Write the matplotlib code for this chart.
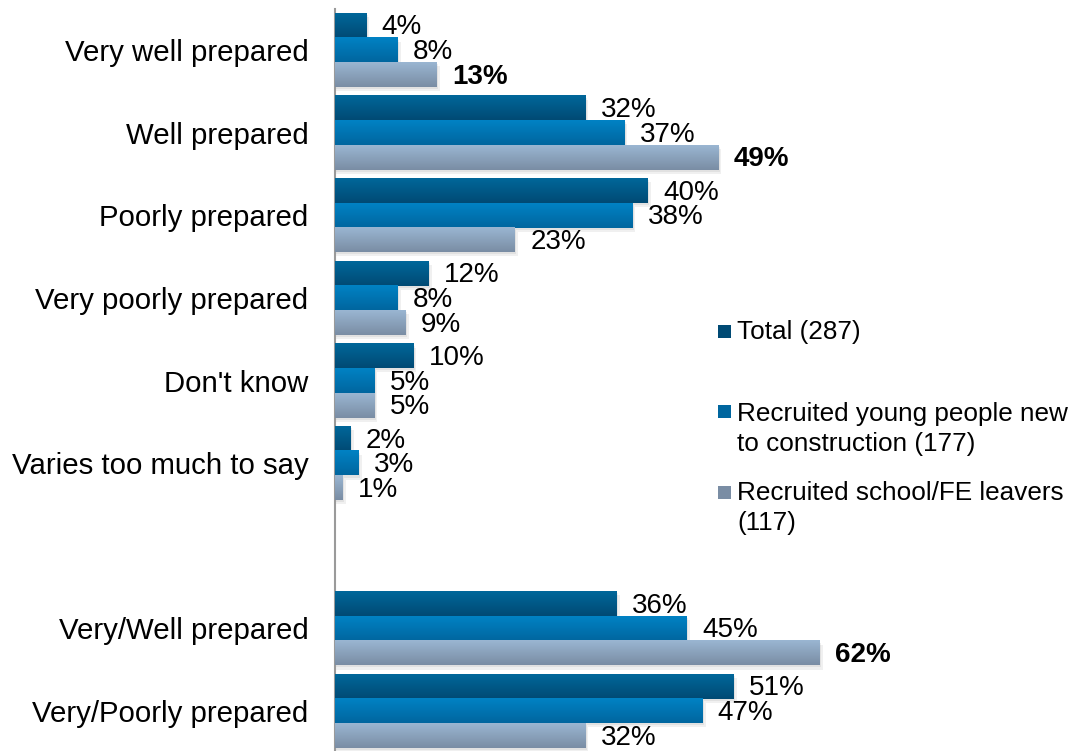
import numpy as np
import matplotlib
matplotlib.use("Agg")
import matplotlib.pyplot as plt
from matplotlib.colors import LinearSegmentedColormap
from matplotlib.patches import Rectangle

plt.rcParams['font.family'] = ['Liberation Sans', 'DejaVu Sans']

categories = ["Very well prepared", "Well prepared", "Poorly prepared",
              "Very poorly prepared", "Don't know", "Varies too much to say",
              "", "Very/Well prepared", "Very/Poorly prepared"]
total = [4, 32, 40, 12, 10, 2, None, 36, 51]
young = [8, 37, 38, 8, 5, 3, None, 45, 47]
school = [13, 49, 23, 9, 5, 1, None, 62, 32]
bold_school = [True, True, False, False, False, False, False, True, False]

series_names = [["Total (287)"],
                ["Recruited young people new", "to construction (177)"],
                ["Recruited school/FE leavers", "(117)"]]
# (top colour, bottom colour) of each bar's vertical gradient
gradients = [("#00679a", "#004a74"), ("#0082c4", "#00669f"), ("#9ab6d2", "#7a8da4")]

W, H = 1078, 751
fig = plt.figure(figsize=(W / 100, H / 100), dpi=100)

# axis spans from the spine to the right edge; categories are 82.6 px apart
pitch = 82.6
top_px = 50 - pitch / 2
bottom_px = 711 + pitch / 2
ax = fig.add_axes([335 / W, (H - bottom_px) / H, 1 - 335 / W, (bottom_px - top_px) / H])
xmax = (W - 335) / 7.82

h = 0.299
ypos = np.arange(len(categories))
all_series = [total, young, school]

for k, (vals, (c_top, c_bot)) in enumerate(zip(all_series, gradients)):
    cmap = LinearSegmentedColormap.from_list("g%d" % k, [c_top, c_bot])
    grad = np.linspace(0, 1, 64).reshape(-1, 1)
    for i, v in enumerate(vals):
        if v is None:
            continue
        yc = ypos[i] + (k - 1) * h
        # soft drop shadow below and right of the bar
        for off, a in [(0.05, 0.06), (0.025, 0.06)]:
            ax.add_patch(Rectangle((0, yc - h / 2 + off), v + off * 8, h,
                                   facecolor="#000000", alpha=a, lw=0, zorder=1))
        ax.barh(yc, v, height=h, color=c_bot, lw=0, zorder=2)
        ax.imshow(grad, extent=[0, v, yc + h / 2, yc - h / 2], cmap=cmap,
                  aspect="auto", interpolation="bilinear", zorder=3)
        weight = "bold" if (k == 2 and bold_school[i]) else "normal"
        ax.annotate("%d%%" % v, xy=(v, yc), xytext=(11, -1.5),
                    textcoords="offset points", ha="left", va="center",
                    fontsize=20, fontweight=weight, color="#000000",
                    annotation_clip=False, zorder=5)

ax.set_xlim(0, xmax)
ax.set_ylim(len(categories) - 0.5, -0.5)

ax.set_yticks(ypos)
ax.set_yticklabels(categories, fontsize=21.2)
ax.tick_params(axis="y", length=0, pad=19)
ax.set_xticks([])
for side in ["top", "right", "bottom"]:
    ax.spines[side].set_visible(False)
ax.spines["left"].set_color("#9a9a9a")
ax.spines["left"].set_linewidth(1.5)

# legend drawn by hand: square marker next to the first line of each entry
marker_y = [331, 411, 492]
baseline_y = [339, 421, 500]
line_gap = 30
s = 13
for (c_top, c_bot), lines, my, by in zip(gradients, series_names, marker_y, baseline_y):
    fig.add_artist(Rectangle((718 / W, (H - my - s / 2) / H), s / W, s / H,
                             transform=fig.transFigure, facecolor=c_bot, lw=0))
    for j, line in enumerate(lines):
        fig.text(737 / W, (H - by - j * line_gap) / H, line, ha="left",
                 va="baseline", fontsize=18.8)

fig.savefig("out.png", dpi=100)
